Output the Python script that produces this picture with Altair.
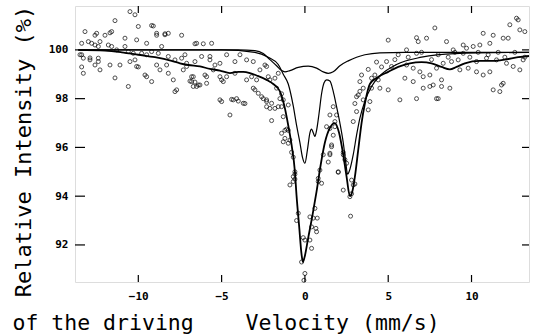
import altair as alt
import pandas as pd

# ---- measured points (velocity mm/s, relative intensity %) ----
pt_v = [-13.2,-12.6,-12.0,-11.7,-11.4,-10.0,-9.1,-8.9,-8.4,-7.4,-6.6,-6.1,-5.6,
        -13.4,-13.4,-13.3,-12.9,-12.4,-12.3,-11.4,-10.6,-11.1,-10.0,-9.6,-9.2,-8.2,-7.8,-6.8,-6.7,-6.3,-6.0,-5.5,-5.0,-5.0,
        -10.5,-10.2,-9.2,-8.9,-8.2,-4.7,-3.9,-3.1,-2.4,
        -7.7,-5.1,-4.5,-4.3,-4.0,-3.6,-6.4,
        -7.2,-5.7,-4.2,-3.5,-6.7,-6.9,-6.6,-5.9,-5.1,-4.9,-4.2,-4.4,-4.1,-3.7,-3.0,-2.8,-2.6,-2.3,-2.0,-3.5,-3.2,-2.9,-2.2,-2.7,-2.3,
        -1.4,-1.3,-1.4,-1.3,-1.2,-1.0,-1.4,-0.9,-1.0,-2.0,-1.8,-1.6,
        -1.2,-1.1,-1.3,-0.8,-0.7,-0.6,-0.6,-0.9,-0.7,
        -0.6,-0.7,-0.4,-0.5,-0.1,0.0,-0.2,0.0,-0.06,
        0.3,0.4,0.3,0.5,0.74,0.4,0.66,0.7,0.8,1.0,0.9,1.1,1.5,1.4,1.6,2.0,2.3,2.3,2.4,2.5,2.8,2.9,2.8,2.7,3.0,2.74,
        1.3,1.5,1.8,1.7,1.6,1.5,2.3,2.0,0.8,0.6,
        -2.1,-1.8,-1.6,-1.7,-1.5,-2.3,-2.1,-1.0,1.7,1.9,1.5,1.8,3.4,3.3,3.5,3.2,3.0,3.1,2.9,
        4.0,4.2,4.4,4.0,3.1,3.3,3.8,3.5,3.9,4.5,5.0,5.7,6.7,8.0,5.0,6.7,6.8,7.3,7.8,8.5,5.6,6.1,6.7,4.9,5.2,
        6.1,6.5,6.9,6.0,6.5,7.1,7.1,7.5,7.7,8.2,8.2,8.7,7.5,7.9,8.3,8.8,9.2,9.5,9.7,10.1,10.5,11.1,
        11.3,11.7,11.8,10.7,11.3,11.9,12.2,12.3,12.7,12.8,12.9,13.2,12.5,12.9,13.1,9.3,9.8,10.3,10.7,11.1,
        10.3,10.9,11.5,12.1,8.9,9.5,7.9,11.9,
        -13.0,-12.8,-12.6,-12.4,-11.8,-11.6,-11.3,-10.8,-10.6,-10.3,-9.8,-9.5,-9.2,-8.8,-8.6,-8.2,-7.8,-7.4,-7.1,-6.6,-6.2,-5.7,-5.4,-5.1,
        -13.5,-13.3,-12.9,-12.6,-12.4,-11.7,-10.5,-10.2,-10.1,-9.5,-8.9,-8.7,-8.3,-7.9,-7.3,-7.1,-6.8,-6.5,-5.9,-4.7,-3.1,-2.5,-2.3,
        -13.4,-12.5,-12.3,-11.6,-10.8,-10.1,-9.5,-8.4,-6.5,
        6.2,7.0,7.6,8.0,8.6,9.0,9.9,10.4,11.0,11.6,12.0,12.6,13.2,5.4,4.6,4.3,3.8]
pt_i = [100.75,100.6,100.6,100.7,101.2,100.96,100.98,100.6,100.66,100.6,100.25,100.25,100.27,
        99.8,99.3,99.04,99.67,99.52,99.18,98.85,98.5,99.38,99.3,98.97,98.7,99.04,98.29,98.7,98.5,98.56,98.97,99.18,97.88,98.77,
        101.57,101.44,101.0,100.68,100.68,99.8,99.8,99.52,99.38,
        98.36,97.95,97.33,97.95,97.9,97.8,98.56,
        99.8,99.73,99.52,99.59,98.9,98.72,98.68,98.63,98.9,98.7,99.04,97.97,98.0,97.81,98.36,98.22,98.08,97.95,97.81,98.77,98.9,98.77,98.9,99.18,99.32,
        98.2,97.95,97.67,97.26,96.7,96.7,96.58,96.3,96.17,97.1,97.6,97.67,
        96.37,96.75,96.23,95.8,95.6,94.9,94.7,94.46,94.6,
        95.0,94.8,93.3,93.0,92.3,92.2,91.3,90.83,90.55,
        92.2,91.86,93.15,93.1,93.1,92.74,92.68,92.54,94.73,94.53,95.07,95.7,95.7,95.4,96.03,94.98,94.25,95.7,95.5,95.35,94.66,94.46,94.1,93.98,94.5,93.18,
        96.85,96.78,96.85,96.5,96.1,95.76,95.8,95.0,94.6,93.5,
        98.77,98.84,99.04,98.43,98.0,97.88,97.6,97.74,97.67,97.33,97.33,97.06,98.97,98.7,98.43,98.15,97.8,97.47,97.06,
        98.84,98.97,98.77,98.43,98.08,98.3,97.54,97.95,97.88,98.43,98.36,97.95,98.0,98.0,100.4,100.5,100.34,100.48,100.9,100.34,99.8,100.0,99.86,99.52,99.32,
        99.38,99.25,99.1,98.84,98.7,98.9,98.43,98.5,98.56,98.5,98.77,98.43,98.97,99.25,99.45,99.52,99.59,99.86,100.07,100.14,100.2,100.27,
        98.36,98.29,98.56,100.68,100.6,100.48,100.48,101.03,101.3,101.23,100.82,100.75,99.32,99.18,99.59,99.18,99.25,99.1,98.97,99.1,
        99.52,99.66,99.59,99.45,100.0,100.2,98.0,98.63,
        100.34,100.27,100.2,100.14,100.2,100.14,100.0,100.14,99.93,99.86,99.86,99.8,99.93,99.86,100.14,99.73,99.59,99.66,99.45,99.52,99.73,99.59,99.38,99.45,
        99.8,99.66,99.59,99.38,99.66,99.38,99.52,99.59,99.32,98.9,99.38,99.18,99.38,98.77,99.18,99.32,98.9,98.5,98.9,98.9,98.43,98.0,97.67,
        100.27,100.68,100.34,100.75,100.48,100.41,100.27,100.62,100.27,
        99.7,99.9,99.6,99.8,99.7,99.9,99.7,99.9,99.8,99.9,99.7,99.9,99.7,99.6,99.3,99.5,99.2]

# ---- fitted total envelope ----
env_v = [-13.6,-12,-11,-10,-9,-8,-7.5,-7,-6.3,-5.7,-5.1,-4.5,-4.0,-3.7,-3.3,-2.9,-2.3,-1.9,-1.5,-1.2,-1.0,-0.8,-0.6,-0.5,
         -0.35,-0.2,-0.12,-0.02,0.2,0.45,0.7,0.95,1.2,1.5,1.8,2.05,2.3,2.5,2.7,2.85,3.0,3.2,3.4,3.6,3.9,4.3,5.0,5.6,
         6.3,7.0,7.6,8.2,8.7,9.1,9.6,10.5,11.3,12.0,12.8,13.45]
env_i = [100.0,99.97,99.9,99.8,99.7,99.55,99.45,99.38,99.32,99.22,99.15,99.05,99.1,99.1,99.05,98.95,98.77,98.6,98.3,97.6,96.9,96.1,95.0,94.0,
         92.8,91.6,91.3,91.5,92.3,93.2,94.2,95.3,96.2,96.8,97.0,96.6,95.7,94.8,94.0,94.2,94.8,95.9,97.0,97.8,98.6,98.85,99.1,99.3,
         99.45,99.5,99.45,99.3,99.2,99.3,99.45,99.55,99.55,99.6,99.7,99.75]

# ---- sub-spectrum A (shallow doublet) ----
a_v = [-13.6,-4,-3,-2.5,-2.1,-1.7,-1.4,-1.2,-0.9,-0.4,0.2,0.7,1.1,1.4,1.7,2.1,2.6,3.1,3.6,4.5,6,13.45]
a_i = [100,100,99.97,99.85,99.6,99.35,99.15,99.1,99.15,99.28,99.33,99.25,99.1,99.04,99.1,99.35,99.55,99.7,99.8,99.88,99.9,99.9]

# ---- sub-spectrum B (main doublet) ----
b_v = [-13.6,-5,-3,-2.2,-1.6,-1.3,-1.0,-0.7,-0.5,-0.3,-0.15,0,0.15,0.3,0.4,0.5,0.6,0.7,0.85,1.0,1.15,1.3,1.5,1.7,1.9,
       2.1,2.3,2.45,2.56,2.7,2.9,3.1,3.3,3.6,4.0,4.6,5.5,7,9,13.45]
b_i = [100,100,99.9,99.7,99.4,99.0,98.6,97.7,96.9,96.2,95.6,95.35,95.9,96.6,96.75,96.6,96.45,96.7,97.4,98.2,98.65,98.77,98.72,98.3,97.67,
       97.0,96.2,95.4,94.9,95.1,95.7,96.5,97.2,97.9,98.5,99.0,99.4,99.7,99.85,99.9]

x_ticks = [-10, -5, 0, 5, 10]
y_ticks = [92, 94, 96, 98, 100]

W, H = 454, 276
FONT = "DejaVu Sans Mono"
NB = "\u00a0"
xs = alt.Scale(domain=[-13.8, 13.45], nice=False, zero=False)
ys = alt.Scale(domain=[90.48, 101.8], nice=False, zero=False)

pts = pd.DataFrame({"v": pt_v, "i": pt_i})
env = pd.DataFrame({"v": env_v, "i": env_i})
ca = pd.DataFrame({"v": a_v, "i": a_i})
cb = pd.DataFrame({"v": b_v, "i": b_i})

xax = alt.Axis(values=x_ticks, ticks=False, domain=False, grid=False, labelFont=FONT, labelFontSize=11,
               labelColor="black", labelPadding=8, labelFontWeight="bold",
               title="of" + NB + "the" + NB + "driving" + NB * 4 + "Velocity" + NB + "(mm/s)",
               titleFont=FONT, titleFontSize=21.5,
               titleFontWeight="normal", titleColor="black", titleAlign="left", titleAnchor="start",
               titleX=-63, titleY=41, titleBaseline="middle")
yax = alt.Axis(values=y_ticks, ticks=False, domain=False, grid=False, labelFont=FONT, labelFontSize=11,
               labelColor="black", labelPadding=7, labelFontWeight="bold",
               title="Relative Intensity (%)", titleFont=FONT, titleFontSize=22,
               titleFontWeight="normal", titleColor="black", titleAngle=270, titleAlign="center",
               titleX=-52, titleY=145, titleBaseline="middle")

points = alt.Chart(pts).mark_point(shape="circle", filled=False, size=16, strokeWidth=1, color="black").encode(
    x=alt.X("v:Q", scale=xs, axis=xax), y=alt.Y("i:Q", scale=ys, axis=yax))

def curve(df, w):
    return alt.Chart(df).mark_line(color="black", strokeWidth=w, interpolate="monotone").encode(
        x=alt.X("v:Q", scale=xs), y=alt.Y("i:Q", scale=ys))

xt = pd.DataFrame({"t": x_ticks})
yt = pd.DataFrame({"t": y_ticks})
tick_b = alt.Chart(xt).mark_rule(color="black", strokeWidth=1.2).encode(x=alt.X("t:Q", scale=xs), y=alt.value(H), y2=alt.value(H - 7))
tick_t = alt.Chart(xt).mark_rule(color="black", strokeWidth=1.2).encode(x=alt.X("t:Q", scale=xs), y=alt.value(0), y2=alt.value(7))
tick_l = alt.Chart(yt).mark_rule(color="black", strokeWidth=1.2).encode(y=alt.Y("t:Q", scale=ys), x=alt.value(0), x2=alt.value(10))
tick_r = alt.Chart(yt).mark_rule(color="black", strokeWidth=1.2).encode(y=alt.Y("t:Q", scale=ys), x=alt.value(W), x2=alt.value(W - 7))

chart = alt.layer(points, curve(ca, 1.2), curve(cb, 1.2), curve(env, 1.8),
                  tick_b, tick_t, tick_l, tick_r).properties(
    width=W, height=H, autosize=alt.AutoSizeParams(type="none"),
    padding={"left": 75, "top": 6, "right": 5, "bottom": 54}
).configure_view(stroke="black", strokeWidth=1.5).configure(background="white")

chart.save("out.html", embed_options={"renderer": "svg", "actions": False})
